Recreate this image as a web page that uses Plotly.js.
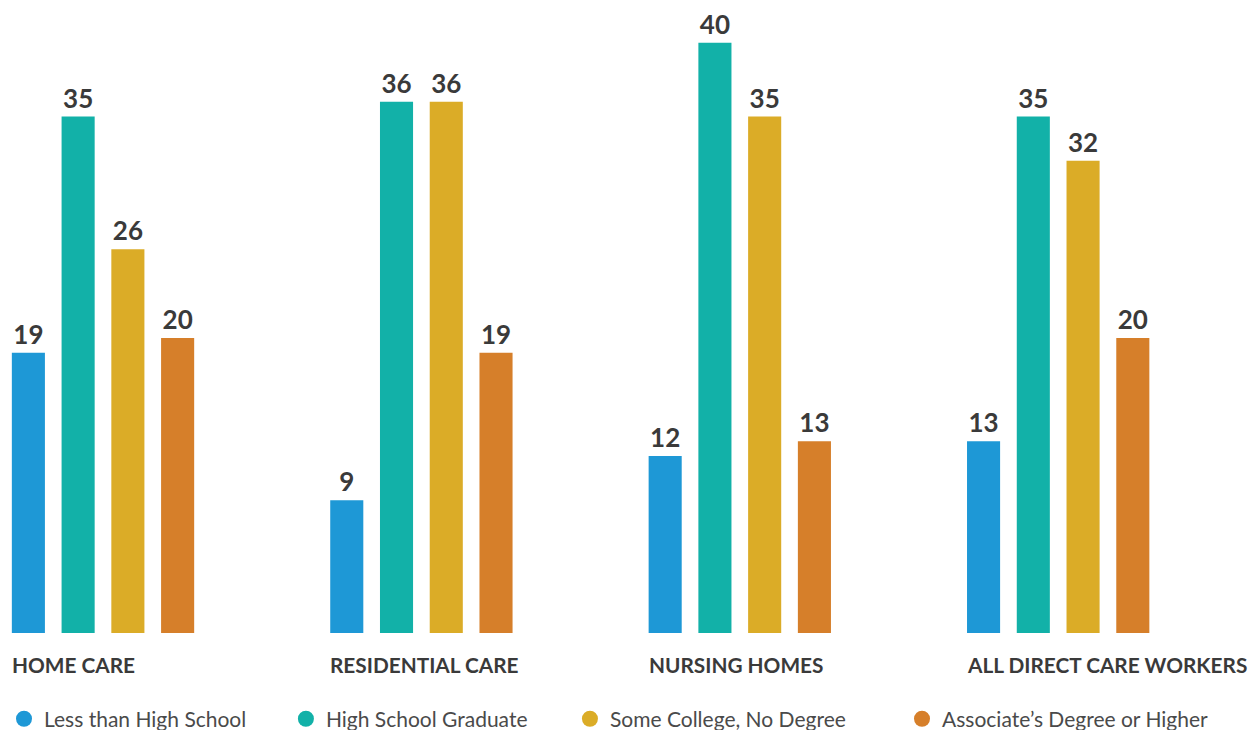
<!DOCTYPE html>
<html>
<head>
<meta charset="utf-8">
<script src="https://cdn.plot.ly/plotly-3.0.1.min.js"></script>
<style>html,body{margin:0;padding:0;background:#fff;}#chart{width:1254px;height:730px;}</style>
</head>
<body>
<div id="chart"></div>
<script>
const categories = ["HOME CARE", "RESIDENTIAL CARE", "NURSING HOMES", "ALL DIRECT CARE WORKERS"];
const seriesNames = ["Less than High School", "High School Graduate", "Some College, No Degree", "Associate\u2019s Degree or Higher"];
const lessThanHS = [19, 9, 12, 13];
const hsGraduate = [35, 36, 40, 35];
const someCollege = [26, 36, 35, 32];
const associatePlus = [20, 19, 13, 20];
const colors = ["#1e98d6", "#12b1a8", "#dbac27", "#d67f2a"];

const seriesValues = [lessThanHS, hsGraduate, someCollege, associatePlus];
const textColor = "#3a3a3a";
const idx = categories.map((c, i) => i);
const legendIds = ["legend", "legend2", "legend3", "legend4"];
const legendX = [0.0032, 0.228, 0.4545, 0.7193];

const traces = [];
seriesValues.forEach((vals, s) => {
  traces.push({
    type: "bar",
    x: idx,
    y: vals,
    name: seriesNames[s],
    marker: {color: colors[s]},
    text: vals.map(String),
    textposition: "outside",
    cliponaxis: false,
    textfont: {family: "Lato, sans-serif", size: 26, color: textColor, weight: 700},
    showlegend: false,
    hoverinfo: "skip"
  });
});
seriesValues.forEach((vals, s) => {
  traces.push({
    type: "scatter",
    mode: "markers",
    x: [null],
    y: [null],
    name: seriesNames[s],
    legend: legendIds[s],
    marker: {color: colors[s], size: 22, symbol: "circle"},
    showlegend: true
  });
});

const annotations = categories.map((c, i) => ({
  x: i, xref: "x", y: 0, yref: "paper",
  text: c, showarrow: false,
  xanchor: "left", yanchor: "middle",
  xshift: -93, yshift: -31,
  font: {family: "Lato, sans-serif", size: 20.8, color: textColor, weight: 700}
}));

const layout = {
  width: 1254, height: 730,
  margin: {l: 0, r: 0, t: 0, b: 97, autoexpand: false},
  paper_bgcolor: "#fff", plot_bgcolor: "#fff",
  barmode: "group",
  bargap: 0.375,
  bargroupgap: 0.335,
  xaxis: {range: [-0.3235, 3.615], showticklabels: false, showgrid: false, zeroline: false, showline: false, ticks: "", fixedrange: true},
  yaxis: {range: [0, 42.9], showticklabels: false, showgrid: false, zeroline: false, showline: false, ticks: "", fixedrange: true},
  showlegend: true,
  annotations: annotations
};
legendIds.forEach((id, s) => {
  layout[id] = {
    orientation: "h", x: legendX[s], xanchor: "left", y: -0.136, yanchor: "middle",
    font: {family: "Lato, sans-serif", size: 21, color: "#4a4a4a"},
    itemsizing: "trace", bgcolor: "rgba(0,0,0,0)"
  };
});

Plotly.newPlot("chart", traces, layout, {displayModeBar: false, staticPlot: true});
</script>
</body>
</html>
